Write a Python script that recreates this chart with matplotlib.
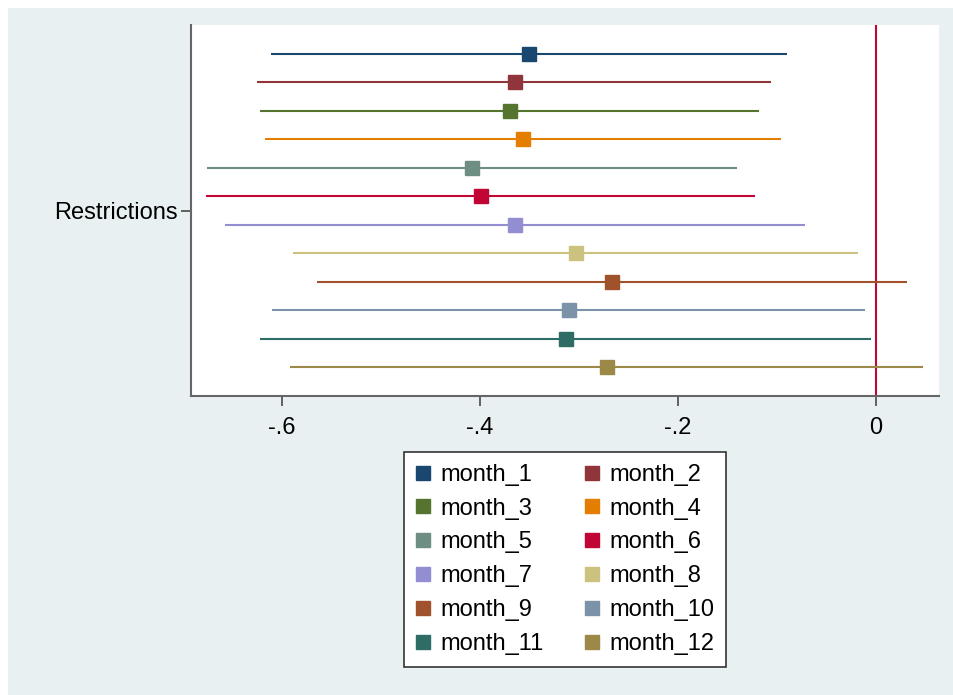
import numpy as np
import matplotlib.pyplot as plt
from matplotlib.lines import Line2D
from matplotlib.patches import Rectangle

plt.rcParams['font.family'] = ['Liberation Sans', 'DejaVu Sans']

# --- coefficient estimates and 95% CIs ---
months = ['month_%d' % i for i in range(1, 13)]
coef = [-0.351, -0.365, -0.370, -0.357, -0.408, -0.399,
        -0.365, -0.303, -0.267, -0.310, -0.313, -0.272]
ci_low = [-0.611, -0.625, -0.622, -0.617, -0.676, -0.677,
          -0.658, -0.589, -0.565, -0.610, -0.622, -0.592]
ci_high = [-0.090, -0.106, -0.118, -0.096, -0.140, -0.122,
           -0.072, -0.018, 0.031, -0.011, -0.005, 0.047]
colors = ['#1a476f', '#90353b', '#55752f', '#e37e00', '#6e8e84', '#c10534',
          '#938dd2', '#cac27e', '#a0522d', '#7b92a8', '#2d6d66', '#9c8847']
xticks = [-0.6, -0.4, -0.2, 0]
xtick_labels = ['-.6', '-.4', '-.2', '0']

W, H = 954, 695
fig = plt.figure(figsize=(W / 100, H / 100), dpi=100, facecolor='white')
# Stata-ish graph region (with a thin white strip on top/left)
fig.patches.append(Rectangle((8 / W, 0), 1 - 8 / W, 1 - 8 / H,
                             transform=fig.transFigure, facecolor='#e8f0f2',
                             edgecolor='none', zorder=-10))

ax = fig.add_axes([190.7 / W, 1 - 396 / H, (939 - 190.7) / W, (396 - 25) / H])
ax.set_facecolor('white')

ypos = np.arange(1, 13)
for i in range(12):
    ax.plot([ci_low[i], ci_high[i]], [ypos[i], ypos[i]], color=colors[i],
            lw=1.5, solid_capstyle='butt', zorder=2)
    ax.plot(coef[i], ypos[i], marker='s', ms=10, color=colors[i],
            mec=colors[i], ls='none', zorder=3)

ax.axvline(0, color='#c10534', lw=1.5, zorder=1)

ax.set_xlim(-0.6922, 0.0636)
ax.set_ylim(13, 0)
ax.set_xticks(xticks)
ax.set_xticklabels(xtick_labels)
ax.set_yticks([6.5])
ax.set_yticklabels(['Restrictions'])
ax.tick_params(axis='both', labelsize=17, width=1.3, length=7,
               color='#555555', labelcolor='#000000')
ax.tick_params(axis='x', pad=8)
ax.tick_params(axis='y', pad=2)

for s in ['top', 'right']:
    ax.spines[s].set_visible(False)
for s in ['left', 'bottom']:
    ax.spines[s].set_color('#666666')
    ax.spines[s].set_linewidth(1.5)

# legend is filled row by row in the reference: reorder for matplotlib's
# column-wise filling
order = list(range(0, 12, 2)) + list(range(1, 12, 2))
handles = [Line2D([], [], marker='s', ms=10, color=colors[k], ls='none')
           for k in order]
labels = [months[k] for k in order]
leg = fig.legend(handles, labels, ncol=2, loc='upper center',
                 bbox_to_anchor=(565 / W, 1 - 452 / H), fontsize=17,
                 frameon=True, fancybox=False, edgecolor='#333333',
                 facecolor='white', framealpha=1,
                 handlelength=0.6, handletextpad=0.45, columnspacing=1.75,
                 labelspacing=0.5, borderpad=0.5, borderaxespad=0)
leg.get_frame().set_linewidth(1.2)

fig.savefig('out.png', dpi=100)
